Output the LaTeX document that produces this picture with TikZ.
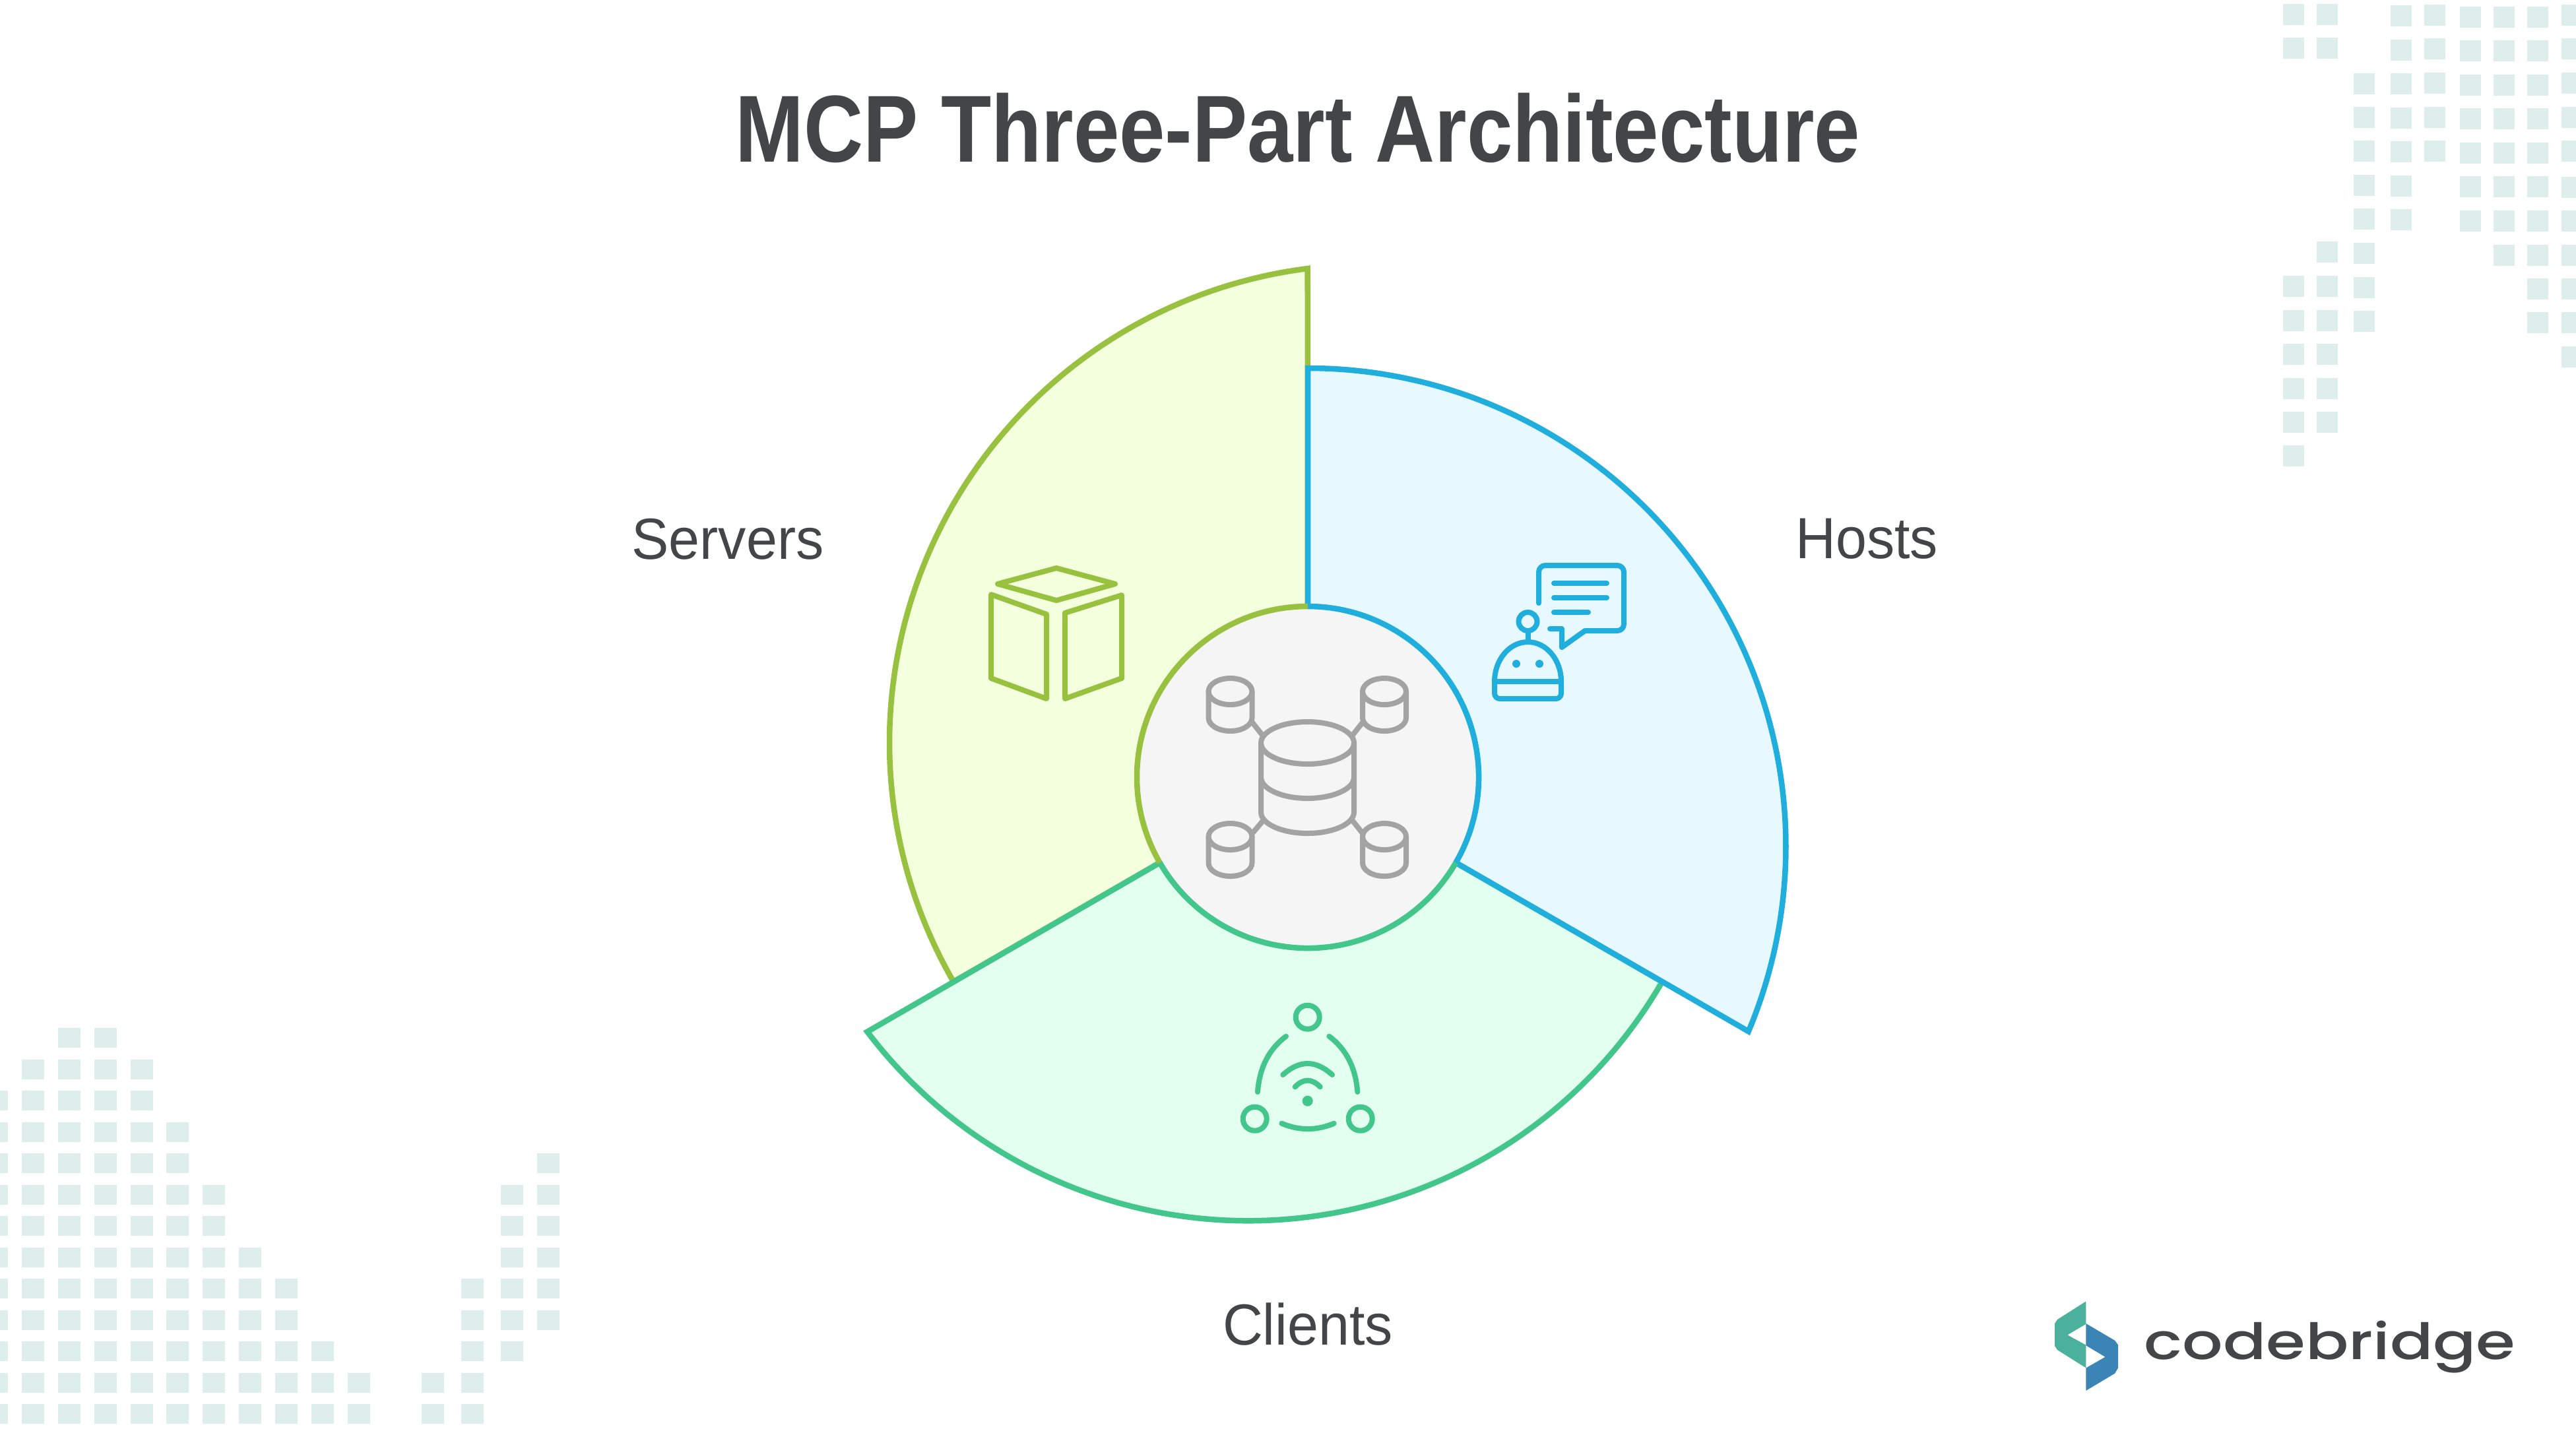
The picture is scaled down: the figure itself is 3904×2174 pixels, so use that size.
\documentclass[tikz,border=0pt]{standalone}
\usepackage{fontspec}
\setmainfont{Liberation Sans}
\newfontfamily\titlefont[FakeStretch=0.865]{Liberation Sans}
\newfontfamily\labelfont[FakeStretch=0.96]{Liberation Sans}
\newfontfamily\logofont[FakeStretch=1.27]{Poppins Medium}
\definecolor{inkgray}{HTML}{434547}
\definecolor{cellgreen}{HTML}{DDEEEB}
\definecolor{serversline}{HTML}{97C13F}
\definecolor{serversfill}{HTML}{F3FFDD}
\definecolor{clientsline}{HTML}{43C68B}
\definecolor{clientsfill}{HTML}{E2FFF0}
\definecolor{hostsline}{HTML}{20AEDD}
\definecolor{hostsfill}{HTML}{E7F9FF}
\definecolor{coreline}{HTML}{A3A3A3}
\definecolor{corefill}{HTML}{F5F5F5}
\definecolor{logoteal}{HTML}{4BB09C}
\definecolor{logoblue}{HTML}{3A84B6}
\tikzset{
  gridcell/.style={fill=cellgreen},
  servers wedge/.style={draw=serversline,fill=serversfill,line width=0.085cm},
  clients wedge/.style={draw=clientsline,fill=clientsfill,line width=0.085cm},
  hosts wedge/.style={draw=hostsline,fill=hostsfill,line width=0.085cm},
  icon/.style={line width=0.08cm,line cap=round,line join=round},
  partlabel/.style={text=inkgray,font=\labelfont\fontsize{25}{30}\selectfont},
}
% One small database drum
\newcommand{\minidb}[2]{%
  \draw[icon,coreline] (#1,-#2) ellipse[x radius=33,y radius=20];
  \draw[icon,coreline] ({#1-33},-#2) -- ++(0,-40) arc[start angle=180,end angle=360,x radius=33,y radius=20] -- ++(0,40);
}

\begin{document}
\begin{tikzpicture}[x=0.01cm,y=0.01cm]

\clip (0,0) rectangle (3904,-2174);
\useasboundingbox (0,0) rectangle (3904,-2174);

% Dot field, top right
\foreach \cx/\rows in {3460/{6,57,418,470,521,573,624,675},
                       3511/{6,57,366,418,470,521,573,624},
                       3567/{111,162,213,265,316,368,420,471},
                       3623/{8,60,111,163,214,266,317},
                       3674/{7,58,110,162,213},
                       3728/{10,61,113,164,216,267,319},
                       3779/{10,61,113,164,216,267,319,371},
                       3830/{10,61,113,164,216,267,319,371,422,473},
                       3882/{7,58,110,162,213,268,319,371,422,473,525}}
  \foreach \cy in \rows
    \fill[gridcell] (\cx,-\cy) rectangle ++(32,-32);

% Dot field, bottom left
\foreach \cx/\first/\last in {-22/2/12,33/1/12,88/0/12,143/0/12,198/1/12,252/3/12,307/5/12,
                              362/7/12,417/8/12,472/10/12,527/11/12,639/11/12,699/8/12,
                              759/5/10,814/4/9}
  \foreach \r in {\first,...,\last}
    \fill[gridcell] (\cx,{-1558-47.5*\r}) rectangle ++(34,-30);

% Centre of the whole figure
\coordinate (O) at (1982,-1178);

% Three shifted sectors
\foreach \part/\ang in {servers/210,clients/330,hosts/90}
  \draw[\part\space wedge] (O) -- ++(\ang:620) arc[start angle=\ang,delta angle=-112.8,radius=724.5] -- cycle;

% Core disc with its three coloured arcs
\fill[corefill] (O) circle[radius=259];
\foreach \part/\ang in {serversline/90,clientsline/210,hostsline/330}
  \draw[\part,line width=0.085cm] (O) ++(\ang:259) arc[start angle=\ang,delta angle=120,radius=259];

% Database icon
\draw[icon,coreline] (1981.5,-1126) ellipse[x radius=70.5,y radius=32];
\draw[icon,coreline] (1911,-1178) arc[start angle=180,end angle=360,x radius=70.5,y radius=32];
\draw[icon,coreline] (1911,-1126) -- (1911,-1231) arc[start angle=180,end angle=360,x radius=70.5,y radius=32] -- (2052,-1126);
\minidb{1864.5}{1048}
\minidb{2098}{1048}
\minidb{1864.5}{1268}
\minidb{2098}{1268}
\draw[icon,coreline] (1898,-1095) -- (1913,-1114);
\draw[icon,coreline] (2065,-1095) -- (2050,-1114);
\draw[icon,coreline] (1898,-1263) -- (1914,-1244);
\draw[icon,coreline] (2065,-1263) -- (2050,-1244);

% Servers icon
\draw[icon,serversline] (1601,-861) -- (1690,-885) -- (1601,-910) -- (1512,-885) -- cycle;
\draw[icon,serversline] (1502,-901) -- (1586,-931) -- (1586,-1059) -- (1502,-1028) -- cycle;
\draw[icon,serversline] (1614,-929) -- (1700,-902) -- (1700,-1028) -- (1614,-1059) -- cycle;

% Hosts icon: speech bubble
\draw[icon,hostsline,rounded corners=0.1cm] (2332,-914) -- (2332,-857) -- (2461,-857) -- (2461,-956) -- (2402,-956);
\draw[icon,hostsline] (2402,-956) -- (2367,-981) -- (2367,-953) -- (2349,-953);
\draw[icon,hostsline] (2355,-884) -- (2435,-884);
\draw[icon,hostsline] (2355,-906) -- (2435,-906);
\draw[icon,hostsline] (2355,-928) -- (2407,-928);

% Hosts icon: robot
\draw[icon,hostsline] (2315.5,-942) circle[radius=14];
\draw[icon,hostsline] (2315.5,-957) -- (2315.5,-972);
\draw[icon,hostsline] (2265,-1033) arc[start angle=180,end angle=0,x radius=50.5,y radius=60];
\draw[icon,hostsline,rounded corners=0.08cm] (2265,-1033) -- (2265,-1059) -- (2366,-1059) -- (2366,-1033);
\draw[icon,hostsline] (2265,-1033) -- (2366,-1033);
\fill[hostsline] (2298,-1006) circle[radius=6];
\fill[hostsline] (2333,-1006) circle[radius=6];

% Clients icon
\draw[icon,clientsline] (1981.7,-1541.7) circle[radius=18];
\draw[icon,clientsline] (1901.7,-1695.7) circle[radius=18];
\draw[icon,clientsline] (2061.7,-1695.7) circle[radius=18];
\draw[icon,clientsline] (1949,-1570.7) .. controls (1923,-1590) and (1908.7,-1618.3) .. (1906,-1655);
\draw[icon,clientsline] (2014.3,-1570.7) .. controls (2040.3,-1590) and (2054.6,-1618.3) .. (2057.3,-1655);
\draw[icon,clientsline] (1942.3,-1702.7) .. controls (1968.8,-1713.8) and (1995.2,-1713.8) .. (2021.7,-1702.7);
\draw[icon,clientsline] (1944.3,-1629) .. controls (1969.2,-1606.3) and (1994,-1606.3) .. (2019,-1629);
\draw[icon,clientsline] (1962.7,-1647.3) .. controls (1975.4,-1634.4) and (1988,-1634.4) .. (2000.7,-1647.3);
\fill[clientsline] (1981.7,-1668.7) circle[radius=8];

% Title and part labels
\node[text=inkgray,font=\titlefont\fontsize{41}{48}\selectfont\bfseries] (title) at (1967,-194) {MCP Three-Part Architecture};
\node[partlabel] (serverslabel) at (1103,-817) {Servers};
\node[partlabel] (hostslabel) at (2829,-817) {Hosts};
\node[partlabel] (clientslabel) at (1982,-2007) {Clients};

% Logo mark and wordmark
\fill[logoteal] (3161.4,-1972.3) -- (3118,-2000) -- (3114,-2006) -- (3114,-2040) -- (3118,-2046) -- (3161.4,-2073.3) -- (3161.4,-2038.7) -- (3133.3,-2023.3) -- (3161.4,-2006.7) -- cycle;
\fill[logoblue] (3161.4,-2006) -- (3205,-2031.7) -- (3210,-2038.3) -- (3210,-2073.3) -- (3205,-2081.7) -- (3161.4,-2107.7) -- (3161.4,-2073.3) -- (3190.5,-2056.7) -- (3161.4,-2039.3) -- cycle;
\node[text=inkgray,anchor=base west,inner sep=0pt,font=\logofont\fontsize{21.6}{26}\selectfont] (wordmark) at (3249,-2060) {codebridge};

\end{tikzpicture}
\end{document}
